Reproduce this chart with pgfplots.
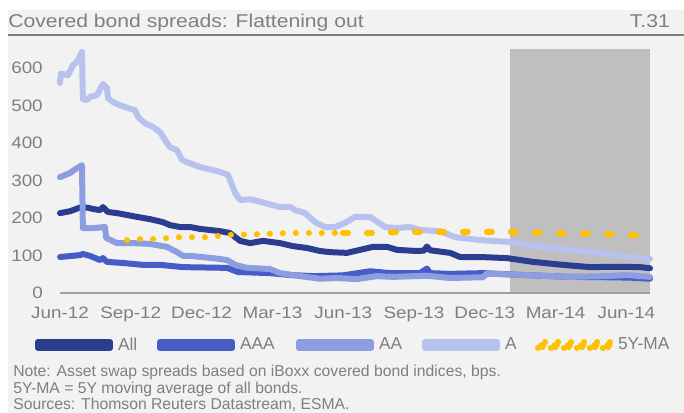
\documentclass[border=0pt]{standalone}
\usepackage{fontspec}
\setmainfont{Liberation Sans}[FakeStretch=1.14]
\newfontfamily\notefont{Liberation Sans}
\usepackage{pgfplots}
\pgfplotsset{compat=1.18}
\definecolor{bgc}{HTML}{F2F2F2}
\definecolor{shade}{HTML}{BFBFBF}
\definecolor{cAll}{HTML}{2B3D8F}
\definecolor{cAAA}{HTML}{475CC7}
\definecolor{cAA}{HTML}{8C9DE0}
\definecolor{cA}{HTML}{B7C2EE}
\definecolor{cMA}{HTML}{FFC000}
\definecolor{txt}{HTML}{7F7F7F}
\definecolor{axc}{HTML}{A0A0A0}
\begin{document}
\begin{tikzpicture}
\begin{scope}[x=0.75pt,y=-0.75pt]
\fill[white] (0,0) rectangle (684,413);
\fill[bgc] (8,10) rectangle (684,413);
\node[anchor=base west, inner sep=0pt, text=txt, font=\fontsize{13.9pt}{16pt}\selectfont] at (8,28) {Covered bond spreads: Flattening out};
\node[anchor=base east, inner sep=0pt, text=txt, font=\fontsize{13.9pt}{16pt}\selectfont] at (670,28) {T.31};
\draw[txt, line width=1.7pt] (8,35) -- (684,35);
\node[anchor=base west, inner sep=0pt, text=txt, font=\notefont\fontsize{11.8pt}{14pt}\selectfont] at (13,376.7) {Note: Asset swap spreads based on iBoxx covered bond indices, bps.};
\node[anchor=base west, inner sep=0pt, text=txt, font=\notefont\fontsize{11.8pt}{14pt}\selectfont] at (13,393.2) {5Y-MA = 5Y moving average of all bonds.};
\node[anchor=base west, inner sep=0pt, text=txt, font=\notefont\fontsize{11.8pt}{14pt}\selectfont] at (13,409.7) {Sources: Thomson Reuters Datastream, ESMA.};
\end{scope}
\begin{axis}[
  at={(45pt,-219.75pt)}, anchor=south west,
  scale only axis, width=442.5pt, height=182.8125pt,
  xmin=0, xmax=25, ymin=0, ymax=650,
  clip=false, axis on top,
  axis x line*=bottom, axis y line*=left,
  x axis line style={draw=axc, line width=1.5pt, -},
  y axis line style={draw=none},
  xtick={0,3,...,24},
  xticklabels={Jun-12,Sep-12,Dec-12,Mar-13,Jun-13,Sep-13,Dec-13,Mar-14,Jun-14},
  ytick={0,100,...,600},
  major tick length=0pt,
  /pgf/number format/assume math mode=true,
  tick label style={font=\fontsize{12.4pt}{14pt}\selectfont, text=txt},
  yticklabel style={anchor=east, inner sep=0pt, text width=24pt, align=right},
  yticklabel shift=12.75pt,
  xticklabel style={anchor=base, inner sep=0pt, yshift=-18.75pt},
  every axis plot/.append style={line width=4.5pt, line cap=round, line join=round},
  legend style={at={(-0.04237,-0.2133)}, anchor=west, draw=none, fill=none,
    inner sep=0pt, outer sep=0pt, legend columns=5,
    font=\notefont\fontsize{13pt}{15pt}\selectfont, text=txt,
    nodes={inner sep=0pt, outer sep=0pt},
    /tikz/every odd column/.style={column sep=3.75pt},
    /tikz/every even column/.style={column sep=0pt}},
  legend cell align=left,
  legend image code/.code={\path (0pt,-2.25pt) rectangle (54pt,2.25pt); \draw[#1] (2.25pt,0pt) -- (51.75pt,0pt);},
]
\addplot[fill=shade, draw=none, line width=0pt, forget plot] coordinates {(19.07,650) (25,650)} \closedcycle;

\addplot[cAll] coordinates {
(0,213) (0.42,218) (0.85,228) (1.14,228) (1.40,224) (1.69,221) (1.82,229) (2.03,216)
(2.42,213) (2.84,208) (3.26,203) (3.81,197) (4.36,189) (4.66,181) (5.08,176) (5.51,176)
(5.93,171) (6.78,165) (7.20,160) (7.63,139) (8.05,133) (8.60,139) (9.32,133) (9.87,125)
(10.47,120) (11.02,112) (11.44,109) (12.16,107) (12.71,115) (13.26,123) (13.86,123)
(14.28,115) (15.13,112) (15.42,113) (15.55,124) (15.68,114) (16.53,107) (16.95,96)
(17.80,96) (18.94,93) (20.04,83) (21.31,75) (22.46,69) (23.60,70) (24.58,69) (25.0,66)
};
\addlegendentry{\makebox[29.25pt][l]{All}}

\addplot[cAAA] coordinates {
(0,96) (0.85,101) (0.97,104) (1.27,99) (1.69,88) (1.82,93) (1.99,83) (2.67,80)
(3.52,75) (4.24,75) (5.21,69) (7.08,67) (7.54,56) (8.90,53) (9.75,48) (10.72,45)
(11.99,47) (13.14,58) (13.98,53) (15.25,53) (15.55,65) (15.68,53) (16.53,51)
(17.92,53) (19.62,48) (21.61,43) (23.18,42) (24.15,41) (25.0,38)
};
\addlegendentry{\makebox[42pt][l]{AAA}}

\addplot[cAA] coordinates {
(0,309) (0.42,320) (0.72,333) (0.89,339) (0.93,341) (0.97,173) (1.40,173) (1.91,176)
(1.95,147) (2.42,133) (3.09,133) (3.81,131) (4.53,123) (4.96,109) (5.21,99) (5.51,99)
(6.48,93) (7.08,88) (7.42,75) (7.92,67) (8.90,64) (9.32,53) (10.17,45) (11.02,38)
(11.74,40) (12.58,37) (13.43,45) (14.11,43) (15.55,46) (16.53,40) (17.92,42)
(18.09,52) (19.62,48) (21.61,43) (23.18,45) (24.03,48) (25.0,43)
};
\addlegendentry{\makebox[32.25pt][l]{AA}}

\addplot[cA] coordinates {
(0,560) (0.04,585) (0.34,581) (0.55,608) (0.72,616) (0.93,643) (0.97,517) (1.14,515)
(1.27,523) (1.57,528) (1.82,557) (1.99,547) (2.03,520) (2.25,509) (2.54,501) (2.88,493)
(3.18,488) (3.31,469) (3.60,453) (3.94,443) (4.24,429) (4.45,408) (4.66,389) (4.96,381)
(5.17,355) (5.38,349) (5.93,336) (6.78,323) (7.12,315) (7.42,267) (7.63,248) (8.05,250)
(8.39,245) (8.69,240) (9.32,229) (9.75,230) (9.96,221) (10.38,213) (10.81,189)
(11.23,176) (11.65,176) (12.08,187) (12.50,203) (13.14,203) (13.77,176) (14.19,173)
(14.83,176) (15.25,168) (16.10,165) (16.74,149) (17.80,141) (19.07,136) (20.34,123)
(21.61,115) (22.88,107) (23.73,99) (24.58,93) (25.0,91)
};
\addlegendentry{\makebox[22.5pt][l]{A}}

\addplot[cMA, dash pattern=on 0.1pt off 9.65pt,
  legend image code/.code={\path (0pt,-2.25pt) rectangle (54pt,2.25pt);
    \fill[cMA] (2.25pt,0pt) circle[radius=1.9pt] (12.15pt,0pt) circle[radius=1.9pt]
      (22.05pt,0pt) circle[radius=1.9pt] (31.95pt,0pt) circle[radius=1.9pt]
      (41.85pt,0pt) circle[radius=1.9pt] (51.75pt,0pt) circle[radius=1.9pt];}] coordinates {
(2.84,141) (3.39,144) (4.03,144) (5.08,149) (6.14,149) (7.20,155) (8.47,157)
(9.75,160) (11.99,160)
};
\addlegendentry{5Y-MA}

\addplot[cMA, dash pattern=on 3.75pt off 14.25pt, forget plot] coordinates {
(11.99,160) (13.35,160) (14.41,163) (16.53,163) (19.07,163) (20.76,160) (23.31,157) (25.0,152)
};
\end{axis}
\pgfresetboundingbox
\path[use as bounding box] (0pt,0pt) rectangle (513pt,-309.75pt);
\end{tikzpicture}
\end{document}
